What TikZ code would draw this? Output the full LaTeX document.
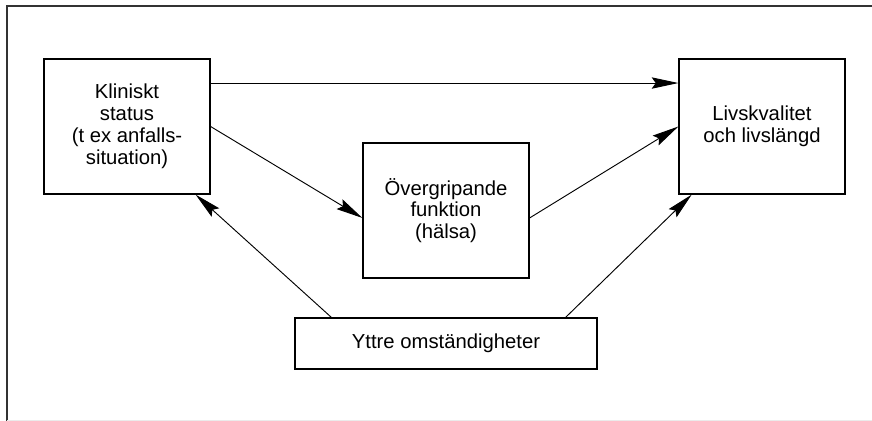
\documentclass[tikz,border=0pt]{standalone}
\usepackage{fontspec}
\setmainfont{Liberation Sans}
\usetikzlibrary{arrows.meta}
\tikzset{
	box/.style={draw, line width=0.9pt, align=center, inner sep=0pt,
		font=\fontsize{15.2}{16.4}\selectfont},
	pil/.style={line width=0.7pt, -{Stealth[length=20pt, width=8.5pt, inset=3pt]}}
}

\begin{document}
\begin{tikzpicture}[x=0.75pt, y=-0.75pt]
		%%%%% START %%%%%
		\useasboundingbox (0, 0) rectangle (872, 421);
		
		% ram
		\draw[line width=1.3pt, color=black!80] (872, 6) -- (7, 6) -- (7, 421);
		\draw[line width=0.5pt, color=black!8] (7, 420) -- (872, 420);
		
		% rutor
		\node[box, minimum width=124.5pt, minimum height=101.25pt] (klin) at (127, 126.5) {Kliniskt\\status\\(t ex anfalls-\\situation)};
		\node[box, minimum width=124.5pt, minimum height=101.25pt] (overg) at (446, 210.5) {Övergripande\\funktion\\(hälsa)};
		\node[box, minimum width=124.5pt, minimum height=101.25pt] (livs) at (762, 126.5) {Livskvalitet\\och livslängd};
		\node[box, minimum width=226.5pt, minimum height=38.25pt] (yttre) at (446, 343.5) {Yttre omständigheter};
		
		% pilar
		\draw[pil] ([yshift=32.6pt]klin.east) -- ([yshift=32.6pt]livs.west);
		\draw[pil] (klin.east) -- ([yshift=-5.6pt]overg.west);
		\draw[pil] ([yshift=-5.6pt]overg.east) -- (livs.west);
		\draw[pil] ([xshift=27.75pt]yttre.north west) -- ([xshift=-11.25pt]klin.south east);
		\draw[pil] ([xshift=-24pt]yttre.north east) -- ([xshift=10pt]livs.south west);
		
		%%%%% END %%%%%
	\end{tikzpicture}
\end{document}
